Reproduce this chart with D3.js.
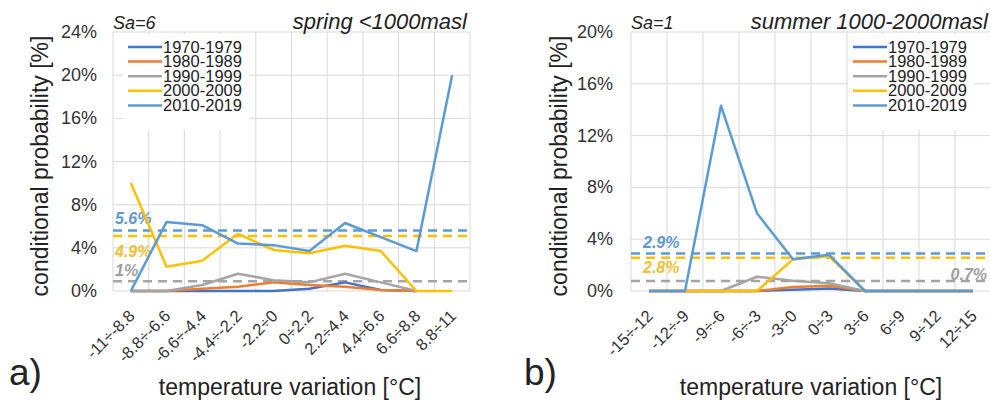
<!DOCTYPE html>
<html>
<head>
<meta charset="utf-8">
<script src="https://cdn.jsdelivr.net/npm/d3@7"></script>
<style>
  body { margin: 0; background: #fff; }
  svg { display: block; font-family: "Liberation Sans", Arial, sans-serif; }
</style>
</head>
<body>
<svg width="990" height="405"></svg>
<script>
// decades (legend) and their colours
var periods = ["1970-1979", "1980-1989", "1990-1999", "2000-2009", "2010-2019"];
var periodColors = ["#4472C4", "#ED7D31", "#A5A5A5", "#FFC000", "#5B9BD5"];

// panel a) spring <1000masl
var catsA = ["-11÷-8.8", "-8.8÷-6.6", "-6.6÷-4.4", "-4.4÷-2.2", "-2.2÷0", "0÷2.2", "2.2÷4.4", "4.4÷6.6", "6.6÷8.8", "8.8÷11"];
var a1970 = [0, 0, 0, 0, 0, 0.2, 0.8, 0.1, 0, null];
var a1980 = [0, 0, 0.2, 0.4, 0.8, 0.55, 0.4, 0.1, 0, null];
var a1990 = [0, 0, 0.55, 1.6, 1.0, 0.8, 1.6, 0.8, 0, null];
var a2000 = [10, 2.25, 2.8, 5.3, 3.8, 3.5, 4.2, 3.7, 0, 0];
var a2010 = [0, 6.4, 6.1, 4.4, 4.25, 3.7, 6.3, 5.0, 3.7, 20];
var aMeans = [5.6, 5.1, 0.9];
var aMeanLabels = ["5.6%", "4.9%", "1%"];
var aTicks = [0, 4, 8, 12, 16, 20, 24];

// panel b) summer 1000-2000masl
var catsB = ["-15÷-12", "-12÷-9", "-9÷-6", "-6÷-3", "-3÷0", "0÷3", "3÷6", "6÷9", "9÷12", "12÷15"];
var b1970 = [0, 0, 0, 0, 0.1, 0.2, 0, 0, 0, 0];
var b1980 = [0, 0, 0, 0, 0.3, 0.4, 0, 0, 0, 0];
var b1990 = [0, 0, 0, 1.1, 0.8, 0.6, 0, 0, 0, 0];
var b2000 = [0, 0, 0, 0, 2.45, 2.7, 0, 0, 0, 0];
var b2010 = [0, 0, 14.3, 6.0, 2.45, 2.8, 0, 0, 0, 0];
var bMeans = [2.9, 2.57, 0.77];
var bMeanLabels = ["2.9%", "2.8%", "0.7%"];
var bTicks = [0, 4, 8, 12, 16, 20];

var meanColors = ["#5B9BD5", "#FFC000", "#A5A5A5"];
var labelColors = ["#5F97CF", "#F2BE2E", "#9E9E9E"];

var svg = d3.select("svg");

function drawPanel(p) {
    var g = svg.append("g");
    var x = d3.scaleBand().domain(p.cats).range([p.x0, p.x1]);
    var y = d3.scaleLinear().domain([0, d3.max(p.ticks)]).range([291, 32]);

    // horizontal gridlines
    g.selectAll(".hg").data(p.ticks).enter().append("line")
        .attr("x1", p.x0).attr("x2", p.x1)
        .attr("y1", function (d) { return y(d); })
        .attr("y2", function (d) { return y(d); })
        .attr("stroke", "#D9D9D9").attr("stroke-width", 1);

    // vertical gridlines on the band edges
    var edges = p.cats.map(function (c) { return x(c); }).concat([p.x1]);
    g.selectAll(".vg").data(edges).enter().append("line")
        .attr("x1", function (d) { return d; }).attr("x2", function (d) { return d; })
        .attr("y1", y(0)).attr("y2", y(d3.max(p.ticks)))
        .attr("stroke", "#D9D9D9").attr("stroke-width", 1);

    // y tick labels
    g.selectAll(".yt").data(p.ticks).enter().append("text")
        .attr("x", p.tickX).attr("y", function (d) { return y(d) + 6; })
        .attr("text-anchor", "end").attr("font-size", 18).attr("fill", "#333")
        .text(function (d) { return d + "%"; });

    // x tick labels, rotated
    g.selectAll(".xt").data(p.cats).enter().append("text")
        .attr("transform", function (d) {
            return "translate(" + (x(d) + x.bandwidth() / 2 + 5) + ",317) rotate(-45)";
        })
        .attr("text-anchor", "end").attr("font-size", 16.5).attr("fill", "#333")
        .text(function (d) { return d; });

    // axis titles
    g.append("text")
        .attr("transform", "translate(" + p.titleX + ",166) rotate(-90)")
        .attr("text-anchor", "middle").attr("font-size", 23).attr("fill", "#222")
        .text("conditional probability [%]");
    g.append("text")
        .attr("x", p.xTitle).attr("y", 395)
        .attr("text-anchor", "middle").attr("font-size", 23).attr("fill", "#222")
        .text("temperature variation [°C]");
    g.append("text")
        .attr("x", p.letterX).attr("y", 385)
        .attr("font-size", 37).attr("fill", "#222")
        .text(p.letter);

    // headers
    g.append("text")
        .attr("x", p.x0).attr("y", 29)
        .attr("font-size", 18).attr("font-style", "italic").attr("fill", "#222")
        .text(p.sa);
    g.append("text")
        .attr("x", p.headX).attr("y", 29).attr("text-anchor", "end")
        .attr("font-size", 22).attr("font-style", "italic").attr("fill", "#222")
        .text(p.head);

    // dashed mean lines
    g.selectAll(".mean").data(p.means).enter().append("line")
        .attr("x1", p.x0).attr("x2", p.x1)
        .attr("y1", function (d) { return y(d); })
        .attr("y2", function (d) { return y(d); })
        .attr("stroke", function (d, i) { return meanColors[i]; })
        .attr("stroke-width", 2.5)
        .attr("stroke-dasharray", "9,6");

    g.selectAll(".ml").data(p.meanLabels).enter().append("text")
        .attr("x", function (d, i) { return p.labelPos[i][0]; })
        .attr("y", function (d, i) { return p.labelPos[i][1]; })
        .attr("text-anchor", function (d, i) { return p.labelPos[i][2]; })
        .attr("font-size", 16).attr("font-style", "italic").attr("font-weight", "bold")
        .attr("fill", function (d, i) { return labelColors[i]; })
        .text(function (d) { return d; });

    // series lines
    var line = d3.line()
        .defined(function (d) { return d !== null; })
        .x(function (d, i) { return x(p.cats[i]) + x.bandwidth() / 2; })
        .y(function (d) { return y(d); });

    g.selectAll(".series").data(p.series).enter().append("path")
        .attr("d", line)
        .attr("fill", "none")
        .attr("stroke", function (d, i) { return periodColors[i]; })
        .attr("stroke-width", 2.5)
        .attr("stroke-linejoin", "round");

    // legend with white backing
    var lg = g.append("g");
    lg.append("rect")
        .attr("x", p.legX - 5).attr("y", 34).attr("width", 126).attr("height", 96)
        .attr("fill", "#fff");
    var rows = lg.selectAll(".lr").data(periods).enter().append("g")
        .attr("transform", function (d, i) { return "translate(" + p.legX + "," + (47 + i * 14.6) + ")"; });
    rows.append("line")
        .attr("x1", 0).attr("x2", 34)
        .attr("stroke", function (d, i) { return periodColors[i]; })
        .attr("stroke-width", 2.5);
    rows.append("text")
        .attr("x", 35).attr("y", 5.5)
        .attr("font-size", 16.5).attr("fill", "#222")
        .text(function (d) { return d; });
}

drawPanel({
    cats: catsA, series: [a1970, a1980, a1990, a2000, a2010],
    means: aMeans, meanLabels: aMeanLabels, ticks: aTicks,
    x0: 113, x1: 470, tickX: 97, titleX: 48, xTitle: 290,
    letter: "a)", letterX: 9, sa: "Sa=6", head: "spring <1000masl", headX: 467,
    legX: 128,
    labelPos: [[115, 224, "start"], [115, 257, "start"], [115, 276, "start"]]
});

drawPanel({
    cats: catsB, series: [b1970, b1980, b1990, b2000, b2010],
    means: bMeans, meanLabels: bMeanLabels, ticks: bTicks,
    x0: 631, x1: 991, tickX: 613, titleX: 567, xTitle: 811,
    letter: "b)", letterX: 524, sa: "Sa=1", head: "summer 1000-2000masl", headX: 988,
    legX: 853,
    labelPos: [[643, 248, "start"], [643, 273, "start"], [987, 280, "end"]]
});
</script>
</body>
</html>
